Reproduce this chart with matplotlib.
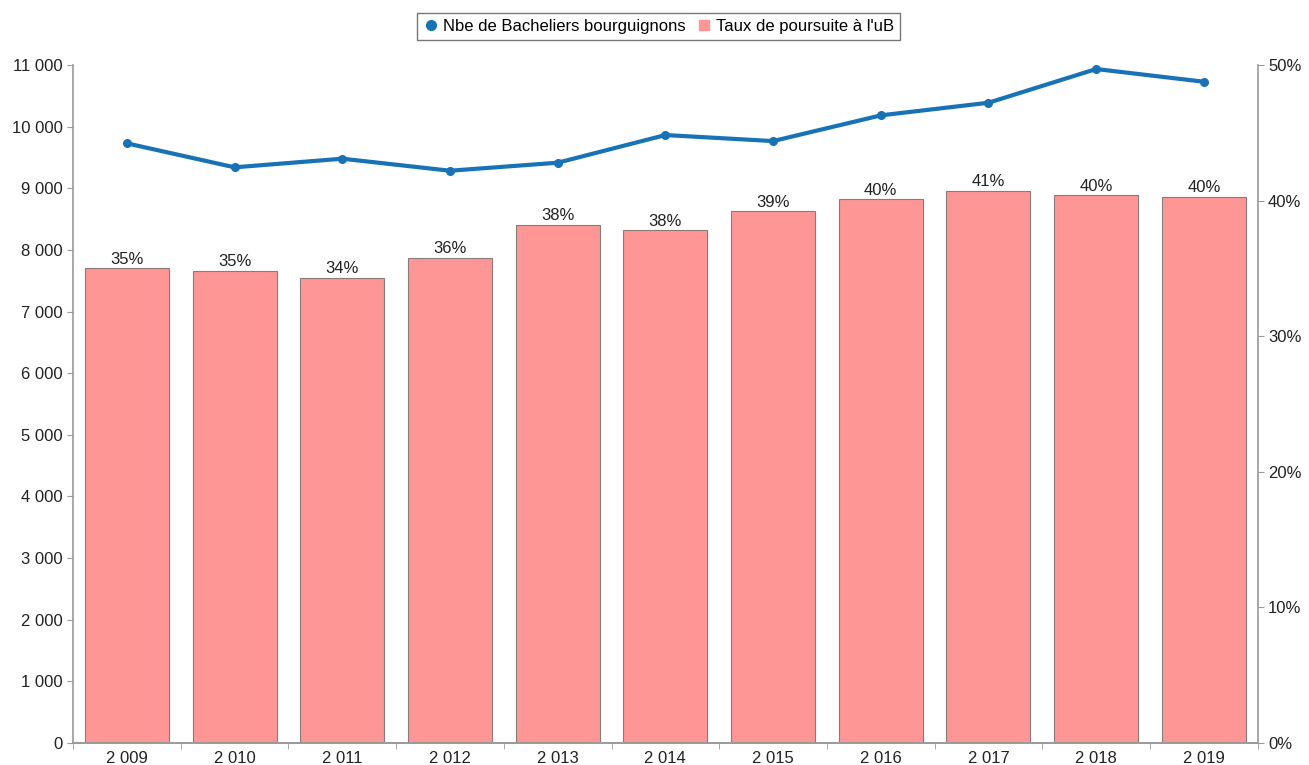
import matplotlib.pyplot as plt
from matplotlib.lines import Line2D
from matplotlib.ticker import FuncFormatter, FixedLocator

plt.rcParams["font.family"] = ["Liberation Sans", "DejaVu Sans"]

years = ["2 009", "2 010", "2 011", "2 012", "2 013", "2 014", "2 015", "2 016", "2 017", "2 018", "2 019"]
bacheliers = [9729, 9340, 9480, 9285, 9415, 9864, 9766, 10183, 10388, 10935, 10729]
taux = [35.0, 34.8, 34.3, 35.8, 38.2, 37.8, 39.2, 40.1, 40.7, 40.4, 40.3]

line_color = "#1873b6"
bar_color = "#ff9696"
spine_color = "#9a9a9a"
text_color = "#222222"

fig = plt.figure(figsize=(13.09, 7.65), dpi=100)
ax = fig.add_axes([0.0558, 0.0288, 0.905, 0.8862])
ax2 = ax.twinx()

x = list(range(len(years)))

# bars on the right (percent) axis, drawn behind the line
ax2.bar(x, taux, width=0.78, color=bar_color, edgecolor="#8a7a7a", linewidth=0.8)
for xi, v in zip(x, taux):
    ax2.text(xi, v + 0.12, f"{round(v):d}%", ha="center", va="bottom",
             fontsize=12, color=text_color)

ax.plot(x, bacheliers, color=line_color, linewidth=3, marker="o", markersize=5.5, zorder=3)

ax.set_zorder(ax2.get_zorder() + 1)
ax.patch.set_visible(False)

ax.set_xlim(-0.5, len(years) - 0.5)
ax.set_ylim(0, 11000)
ax2.set_ylim(0, 50)
ax.set_yticks(range(0, 11001, 1000))
ax.yaxis.set_major_formatter(FuncFormatter(lambda v, p: f"{int(v):,}".replace(",", " ")))
ax2.set_yticks(range(0, 51, 10))
ax2.yaxis.set_major_formatter(FuncFormatter(lambda v, p: f"{int(v)}%"))

# category labels at centres, tick marks at boundaries
ax.set_xticks(x)
ax.set_xticklabels(years)
ax.tick_params(axis="x", length=0, pad=6)
ax.xaxis.set_minor_locator(FixedLocator([i - 0.5 for i in range(len(years) + 1)]))
ax.tick_params(axis="x", which="minor", length=4, color=spine_color)

for a in (ax, ax2):
    a.spines["top"].set_visible(False)
    for s in ("left", "right", "bottom"):
        a.spines[s].set_color(spine_color)
        a.spines[s].set_linewidth(1.2)
    a.tick_params(axis="y", length=4, color=spine_color, labelsize=12, labelcolor=text_color)
ax.tick_params(axis="x", labelsize=12, labelcolor=text_color)
ax2.spines["left"].set_visible(False)
ax.spines["right"].set_visible(False)

handles = [
    Line2D([], [], color=line_color, marker="o", linestyle="none", markersize=7),
    Line2D([], [], color=bar_color, marker="s", linestyle="none", markersize=7),
]
leg = fig.legend(handles, ["Nbe de Bacheliers bourguignons", "Taux de poursuite à l'uB"],
                 loc="center", bbox_to_anchor=(0.503, 0.965), ncol=2, fontsize=12,
                 frameon=True, fancybox=False, handletextpad=0.2, columnspacing=0.6,
                 borderpad=0.35, handlelength=1.0)
leg.get_frame().set_edgecolor("#555555")
leg.get_frame().set_linewidth(1.0)

fig.savefig("out.png", dpi=100)
